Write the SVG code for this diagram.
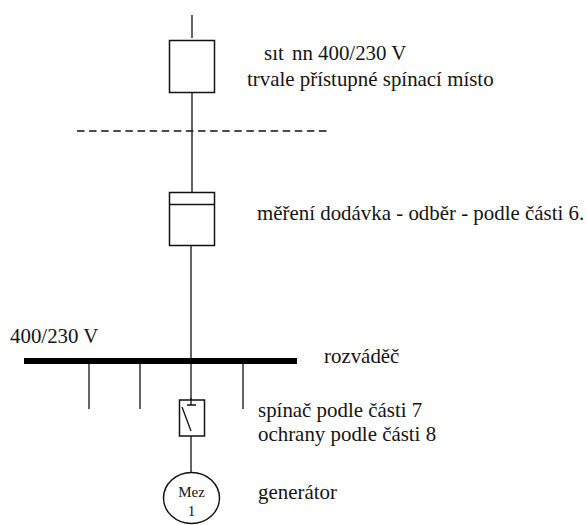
<svg xmlns="http://www.w3.org/2000/svg" width="587" height="525" viewBox="0 0 587 525">
<style>
.l{stroke:#111;stroke-width:1.3;fill:none}
.b{stroke:#111;stroke-width:1.5;fill:#fff}
text{font-family:"Liberation Serif","Times New Roman",serif;font-size:20.900px;fill:#141414}
.s{font-size:15px}
</style>
<rect width="587" height="525" fill="#fff"/>
<g id="connectors">
<path class="l" d="M192 15V38M192 92V192M191 245V405M191 431V473"/>
<path class="l" d="M77 131H327" stroke-dasharray="7.500 4.600"/>
<path class="l" d="M89 364V409M140 364V409M243 364V409"/>
</g>
<g id="fuse-box"><rect class="b" x="169.500" y="40.500" width="45" height="52"/></g>
<g id="meter"><rect class="b" x="169.500" y="192.500" width="45" height="53"/><path class="b" d="M169.500 204.500H214.500"/></g>
<g id="busbar"><rect x="24" y="358" width="273" height="6" fill="#000"/></g>
<g id="switch"><rect class="b" x="179.500" y="400" width="25" height="36"/><path class="l" d="M191 398V405M187 405H196M182 407L191 431"/></g>
<g id="generator"><ellipse class="b" cx="191.500" cy="498" rx="28" ry="25.500"/><text class="s" x="191.500" y="497" text-anchor="middle">Mez</text><text class="s" x="191.500" y="516" text-anchor="middle">1</text></g>
<g id="labels">
<text y="60"><tspan x="264">sıt</tspan><tspan x="292">nn</tspan><tspan x="318">400/230 V</tspan></text>
<text x="247" y="86">trvale přístupné spínací místo</text>
<text x="257" y="220">měření dodávka - odběr - podle části 6.</text>
<text x="10" y="343">400/230 V</text>
<text x="324" y="363">rozváděč</text>
<text x="258" y="417">spínač podle části 7</text>
<text x="258" y="441">ochrany podle části 8</text>
<text x="258" y="499">generátor</text>
</g>
</svg>
